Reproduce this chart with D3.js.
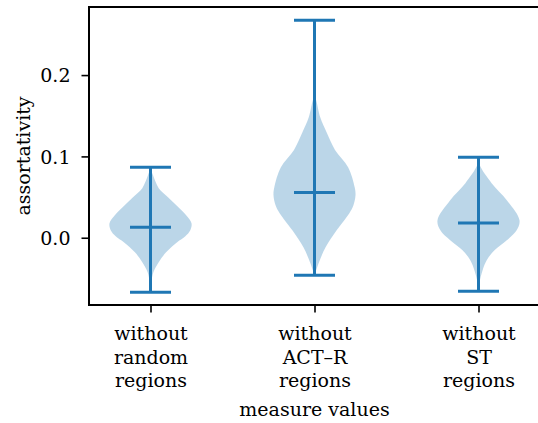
<!DOCTYPE html>
<html><head><meta charset="utf-8">
<script src="https://cdn.jsdelivr.net/npm/d3@7"></script>
<style>body{margin:0;background:#fff}svg{display:block}text{font-family:"DejaVu Serif",serif;fill:#000}</style>
</head><body><div id="chart"></div>
<script>
const categories = [["without","random","regions"],["without","ACT\u2013R","regions"],["without","ST","regions"]];
const positions = [1, 2, 3];
const maxVals = [0.0868, 0.2675, 0.0991];
const meanVals = [0.0130, 0.0557, 0.0180];
const minVals = [-0.0671, -0.0462, -0.0659];
// density profiles: [value, relative half-width]
const density1 = [[0.0868,0],[0.077,0.06],[0.061,0.2],[0.052,0.38],[0.040,0.63],[0.0277,0.87],[0.0179,1.0],[0.0092,0.97],[0.0018,0.85],[-0.0055,0.65],[-0.0179,0.38],[-0.030,0.2],[-0.0425,0.07],[-0.055,0.02],[-0.0671,0]];
const density2 = [[0.2675,0],[0.173,0.005],[0.169,0.04],[0.148,0.14],[0.129,0.3],[0.108,0.5],[0.0868,0.82],[0.0622,0.98],[0.0523,1.0],[0.040,0.95],[0.0302,0.85],[0.0092,0.54],[-0.0117,0.27],[-0.0314,0.1],[-0.0462,0]];
const density3 = [[0.0991,0],[0.0893,0.03],[0.0671,0.32],[0.0462,0.69],[0.0216,1.0],[0.0092,0.93],[-0.0031,0.69],[-0.0154,0.39],[-0.0277,0.2],[-0.040,0.1],[-0.056,0.02],[-0.0659,0]];
const densities = [density1, density2, density3];
const yTicks = [0.0, 0.1, 0.2];
const xLabel = "measure values";
const yLabel = "assortativity";

const W = 538, H = 423;
const m = {left: 89, top: 7, right: -2, bottom: 118};
const svg = d3.select("#chart").append("svg").attr("width", W).attr("height", H);
const x = d3.scaleLinear().domain([0.625, 3.375]).range([m.left, W - m.right]);
const y = d3.scaleLinear().domain([-0.0827, 0.2837]).range([H - m.bottom, m.top]);
const C0 = "#1f77b4";
const halfW = 0.25; // violin width 0.5

const g = svg.append("g");
densities.forEach((d, i) => {
  const p = positions[i];
  const area = d3.area()
    .y(v => y(v[0]))
    .x0(v => x(p - halfW * v[1]))
    .x1(v => x(p + halfW * v[1]))
    .curve(d3.curveCatmullRom);
  g.append("path").datum(d).attr("d", area)
    .attr("fill", C0).attr("fill-opacity", 0.3).attr("stroke", "none");
});
positions.forEach((p, i) => {
  const cap = 0.125;
  g.append("line").attr("x1", x(p)).attr("x2", x(p)).attr("y1", y(minVals[i])).attr("y2", y(maxVals[i]))
    .attr("stroke", C0).attr("stroke-width", 3);
  [maxVals[i], meanVals[i], minVals[i]].forEach(v => {
    g.append("line").attr("x1", x(p - cap)).attr("x2", x(p + cap)).attr("y1", y(v)).attr("y2", y(v))
      .attr("stroke", C0).attr("stroke-width", 3);
  });
});

// axes
const yAxis = d3.axisLeft(y).tickValues(yTicks).tickFormat(d3.format(".1f")).tickSize(7.5).tickPadding(11);
const ya = svg.append("g").attr("transform", `translate(${m.left},0)`).call(yAxis);
ya.select(".domain").remove();
ya.selectAll(".tick line").attr("stroke", "#000").attr("stroke-width", 1.6);
ya.selectAll(".tick text").attr("font-size", 19).attr("font-family", "DejaVu Serif").attr("dy", "0.35em");

const xAxis = d3.axisBottom(x).tickValues(positions).tickFormat("").tickSize(7.5);
const xa = svg.append("g").attr("transform", `translate(0,${H - m.bottom})`).call(xAxis);
xa.select(".domain").remove();
xa.selectAll(".tick line").attr("stroke", "#000").attr("stroke-width", 1.6);
xa.selectAll(".tick").each(function(d, i) {
  const t = d3.select(this).append("text").attr("text-anchor", "middle").attr("font-size", 19)
    .attr("font-family", "DejaVu Serif").attr("fill", "#000");
  categories[i].forEach((s, j) => {
    t.append("tspan").attr("x", 0).attr("y", 35 + j * 23.5).text(s);
  });
});

// spines
svg.append("rect").attr("x", m.left).attr("y", m.top).attr("width", x.range()[1] - m.left).attr("height", H - m.bottom - m.top)
  .attr("fill", "none").attr("stroke", "#000").attr("stroke-width", 2);

svg.append("text").attr("x", (m.left + x.range()[1]) / 2).attr("y", 416).attr("text-anchor", "middle")
  .attr("font-size", 19).text(xLabel);
svg.append("text").attr("transform", `translate(30,${(m.top + H - m.bottom) / 2}) rotate(-90)`)
  .attr("text-anchor", "middle").attr("font-size", 19).text(yLabel);
</script></body></html>
